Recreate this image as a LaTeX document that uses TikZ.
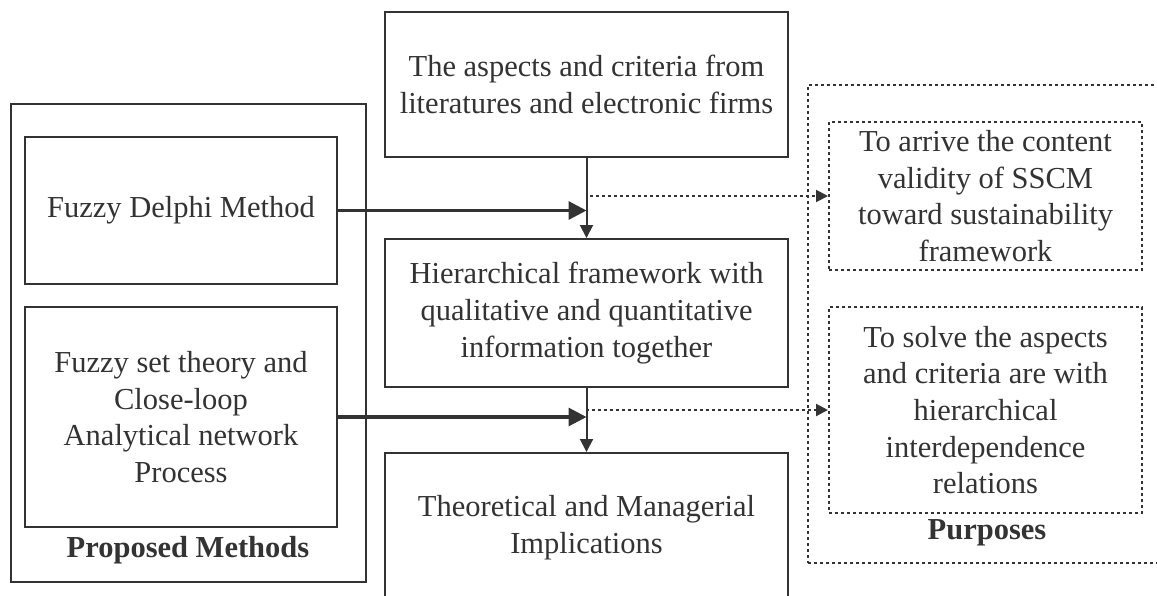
\documentclass[tikz,border=0pt]{standalone}
\usepackage{fontspec}
\setmainfont{Liberation Serif}
\usetikzlibrary{arrows.meta}
\definecolor{ink}{HTML}{333333}

\begin{document}
\begin{tikzpicture}[
        x=0.5pt, y=-0.5pt,
        every node/.style={text=ink, font=\fontsize{15.25pt}{18.35pt}\selectfont},
        box/.style={draw=ink, line width=1pt, align=center, inner sep=0pt},
        dotbox/.style={box, dash pattern=on 1.5pt off 1.5pt},
        feed/.style={draw=ink, line width=1.6pt, -{Triangle[length=9pt,width=9pt]}},
        flow/.style={draw=ink, line width=1pt, -{Triangle[length=6.5pt,width=6.5pt]}},
        goal/.style={draw=ink, line width=1pt, dash pattern=on 1.5pt off 1.5pt, -{Triangle[length=6pt,width=6pt]}}
    ]
    \path[use as bounding box, clip] (0,0) rectangle (1157,595);

    % proposed methods
    \node[box, minimum width=177.5pt, minimum height=239pt] (M) at (188.5,343) {};
    \node[box, minimum width=156pt, minimum height=73.5pt] (D) at (181,210.5) {Fuzzy Delphi Method};
    \node[box, minimum width=156pt, minimum height=110pt] (N) at (181,417) {Fuzzy set theory and\\Close-loop\\Analytical network\\Process};
    \node (ML) at (188,550) {\bfseries Proposed Methods};

    % main flow
    \node[box, minimum width=201.5pt, minimum height=72.5pt] (A) at (586.5,84.5) {The aspects and criteria from\\literatures and electronic firms};
    \node[box, minimum width=201.5pt, minimum height=74pt] (H) at (586.5,313) {Hierarchical framework with\\qualitative and quantitative\\information together};
    \node[box, minimum width=201.5pt, minimum height=75pt] (T) at (586.5,528) {Theoretical and Managerial\\Implications};

    % purposes
    \node[dotbox, minimum width=178.5pt, minimum height=239pt] (P) at (986.5,324) {};
    \node[dotbox, minimum width=156.5pt, minimum height=74pt] (P1) at (985.5,196) {To arrive the content\\validity of SSCM\\toward sustainability\\framework};
    \node[dotbox, minimum width=156.5pt, minimum height=103pt] (P2) at (985.5,410) {To solve the aspects\\and criteria are with\\hierarchical\\interdependence\\relations};
    \node (PL) at (987,533) {\bfseries Purposes};

    \coordinate (J1) at (A.south |- D.east);
    \coordinate (J2) at (H.south |- N.east);

    \draw[flow] (A.south) -- (H.north);
    \draw[flow] (H.south) -- (T.north);
    \draw[feed] (D.east) -- (J1);
    \draw[feed] (N.east) -- (J2);
    \draw[goal] (J1) |- (P1.west);
    \draw[goal] (J2) |- (P2.west);
\end{tikzpicture}
\end{document}
